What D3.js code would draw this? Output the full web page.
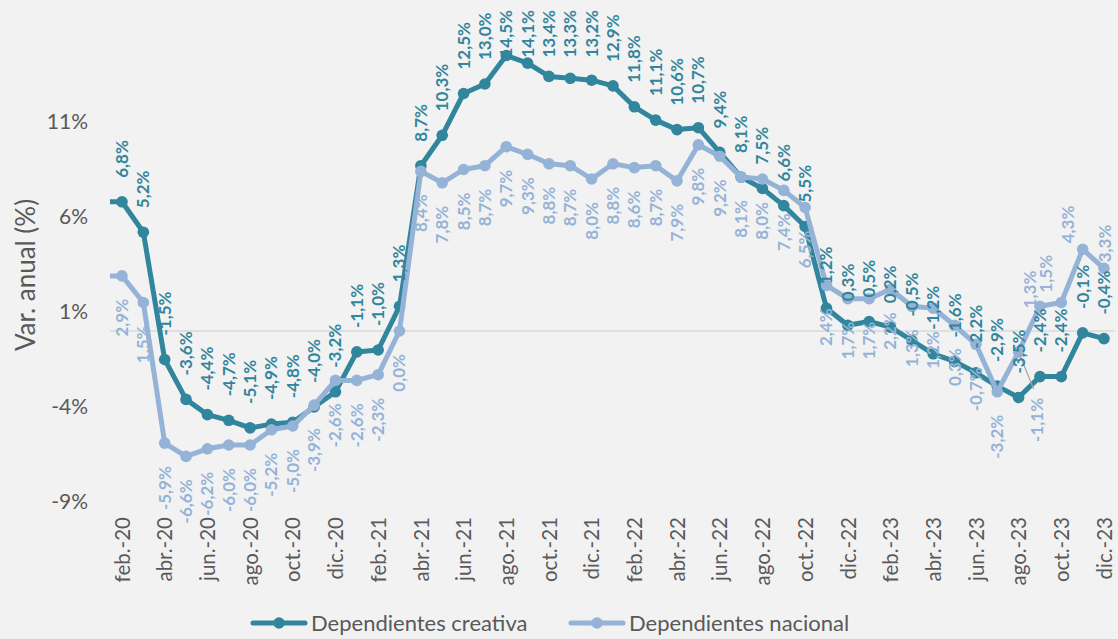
<!DOCTYPE html>
<html>
<head>
<meta charset="utf-8">
<script src="https://cdn.jsdelivr.net/npm/d3@7"></script>
<style>
  html, body { margin: 0; padding: 0; background: #f2f2f2; }
  svg { display: block; font-family: Lato, "Open Sans", sans-serif; }
</style>
</head>
<body>
<svg id="chart" width="1118" height="639"></svg>
<script>
// months (ene.-20 sits just off the left edge of the plot, only its line stub shows)
var months = [
  "ene.-20", "feb.-20", "mar.-20", "abr.-20", "may.-20", "jun.-20", "jul.-20", "ago.-20", "sep.-20", "oct.-20", "nov.-20", "dic.-20",
  "ene.-21", "feb.-21", "mar.-21", "abr.-21", "may.-21", "jun.-21", "jul.-21", "ago.-21", "sep.-21", "oct.-21", "nov.-21", "dic.-21",
  "ene.-22", "feb.-22", "mar.-22", "abr.-22", "may.-22", "jun.-22", "jul.-22", "ago.-22", "sep.-22", "oct.-22", "nov.-22", "dic.-22",
  "ene.-23", "feb.-23", "mar.-23", "abr.-23", "may.-23", "jun.-23", "jul.-23", "ago.-23", "sep.-23", "oct.-23", "nov.-23", "dic.-23"
];
var creativa = [
  6.8, 6.8, 5.2, -1.5, -3.6, -4.4, -4.7, -5.1, -4.9, -4.8, -4.0, -3.2,
  -1.1, -1.0, 1.3, 8.7, 10.3, 12.5, 13.0, 14.5, 14.1, 13.4, 13.3, 13.2,
  12.9, 11.8, 11.1, 10.6, 10.7, 9.4, 8.1, 7.5, 6.6, 5.5, 1.2, 0.3,
  0.5, 0.2, -0.5, -1.2, -1.6, -2.2, -2.9, -3.5, -2.4, -2.4, -0.1, -0.4
];
var nacional = [
  2.9, 2.9, 1.5, -5.9, -6.6, -6.2, -6.0, -6.0, -5.2, -5.0, -3.9, -2.6,
  -2.6, -2.3, 0.0, 8.4, 7.8, 8.5, 8.7, 9.7, 9.3, 8.8, 8.7, 8.0,
  8.8, 8.6, 8.7, 7.9, 9.8, 9.2, 8.1, 8.0, 7.4, 6.5, 2.4, 1.7,
  1.7, 2.2, 1.3, 1.2, 0.3, -0.7, -3.2, -1.1, 1.3, 1.5, 4.3, 3.3
];
var yTicks = [-9, -4, 1, 6, 11];
var xTicks = months.filter(function (m, i) { return i % 2 === 1; });
var seriesNames = ["Dependientes creativa", "Dependientes nacional"];

var dark = "#31859c", light = "#95b3d7", grey = "#595959";
var fmt = function (v) { return v.toFixed(1).replace(".", ",") + "%"; };

var svg = d3.select("#chart");
var x = d3.scalePoint().domain(months).range([100.65, 1104]);
var y = d3.scaleLinear().domain([-9, 15]).range([502, 46]);

svg.append("defs").append("clipPath").attr("id", "plot")
  .append("rect").attr("x", 110).attr("y", 0).attr("width", 1008).attr("height", 639);

// y axis
var ya = svg.append("g").attr("transform", "translate(91,0)")
  .call(d3.axisLeft(y).tickValues(yTicks).tickSize(0).tickPadding(3).tickFormat(function (d) { return d + "%"; }));
ya.select(".domain").remove();
ya.selectAll("text").attr("fill", grey).style("font-size", "21px").style("font-family", "Lato, sans-serif");

svg.append("text")
  .attr("transform", "translate(26,275) rotate(-90)")
  .attr("text-anchor", "middle").attr("dy", "0.35em").attr("fill", grey).style("font-size", "26px")
  .text("Var. anual (%)");

// x axis labels at the bottom
var xa = svg.append("g").attr("transform", "translate(0,512)")
  .call(d3.axisBottom(x).tickValues(xTicks).tickSize(0).tickPadding(0));
xa.select(".domain").remove();
xa.selectAll("text")
  .attr("fill", grey).style("font-size", "20.5px").style("font-family", "Lato, sans-serif")
  .attr("text-anchor", "end").attr("transform", "rotate(-90)")
  .attr("x", -5).attr("y", 0).attr("dy", "0.35em");

// horizontal axis line at 0
svg.append("line")
  .attr("x1", 110).attr("x2", 1115).attr("y1", y(0)).attr("y2", y(0))
  .attr("stroke", "#d9d9d9").attr("stroke-width", 1.5);

var line = d3.line().x(function (d, i) { return x(months[i]); }).y(function (d) { return y(d); });
var plot = svg.append("g").attr("clip-path", "url(#plot)");

function drawSeries(vals, color) {
  plot.append("path").datum(vals)
    .attr("d", line).attr("fill", "none").attr("stroke", color)
    .attr("stroke-width", 5).attr("stroke-linejoin", "round");
  plot.selectAll(null).data(vals).enter().append("circle")
    .attr("cx", function (d, i) { return x(months[i]); })
    .attr("cy", function (d) { return y(d); })
    .attr("r", 5.8).attr("fill", color);
}
drawSeries(creativa, dark);
drawSeries(nacional, light);

// nacional labels that were dragged by hand in the original: [dx, dy from point, above?]
var moved = {
  "ago.-23": [18, 46, false],
  "sep.-23": [-10, 2, true],
  "oct.-23": [-15, -10, true],
  "nov.-23": [-15, -6, true],
  "dic.-23": [1, -6, true]
};
var mi = months.indexOf("ago.-23");
svg.append("line")
  .attr("x1", x(months[mi])).attr("y1", y(nacional[mi]))
  .attr("x2", x(months[mi]) + 15).attr("y2", y(nacional[mi]) + 37)
  .attr("stroke", "#a6a6a6").attr("stroke-width", 1.2);

// nacional labels below the points
svg.append("g").selectAll("text").data(nacional).enter()
  .filter(function (d, i) { return i > 0; })
  .append("text")
  .attr("transform", function (d, i) {
    var m = months[i + 1], px = x(m), py = y(d) + 23, o = moved[m];
    if (o) { px += o[0]; py = y(d) + o[1]; }
    return "translate(" + px + "," + py + ") rotate(-90)";
  })
  .attr("text-anchor", function (d, i) { var o = moved[months[i + 1]]; return o && o[2] ? "start" : "end"; })
  .attr("dy", "0.35em")
  .attr("fill", light).style("font-size", "17px").style("font-weight", "bold")
  .text(fmt);

// creativa labels above the points, kept inside the chart top
svg.append("g").selectAll("text").data(creativa).enter()
  .filter(function (d, i) { return i > 0; })
  .append("text")
  .attr("text-anchor", "start").attr("dy", "0.35em")
  .attr("fill", dark).style("font-size", "17px").style("font-weight", "bold")
  .text(fmt)
  .attr("transform", function (d, i) {
    var len = this.getComputedTextLength();
    var py = Math.max(y(d) - 24, 10 + len);
    return "translate(" + x(months[i + 1]) + "," + py + ") rotate(-90)";
  });

// legend
var legendX = [253, 571];
var lg = svg.append("g").selectAll("g").data(seriesNames).enter().append("g")
  .attr("transform", function (d, i) { return "translate(" + legendX[i] + ",623)"; });
lg.append("line").attr("x1", 0).attr("x2", 52).attr("y1", 0).attr("y2", 0)
  .attr("stroke", function (d, i) { return i ? light : dark; })
  .attr("stroke-width", 5).attr("stroke-linecap", "round");
lg.append("circle").attr("cx", 26).attr("r", 5.8)
  .attr("fill", function (d, i) { return i ? light : dark; });
lg.append("text").attr("x", 58).attr("dy", "0.35em")
  .attr("fill", grey).style("font-size", "22px").text(function (d) { return d; });
</script>
</body>
</html>
